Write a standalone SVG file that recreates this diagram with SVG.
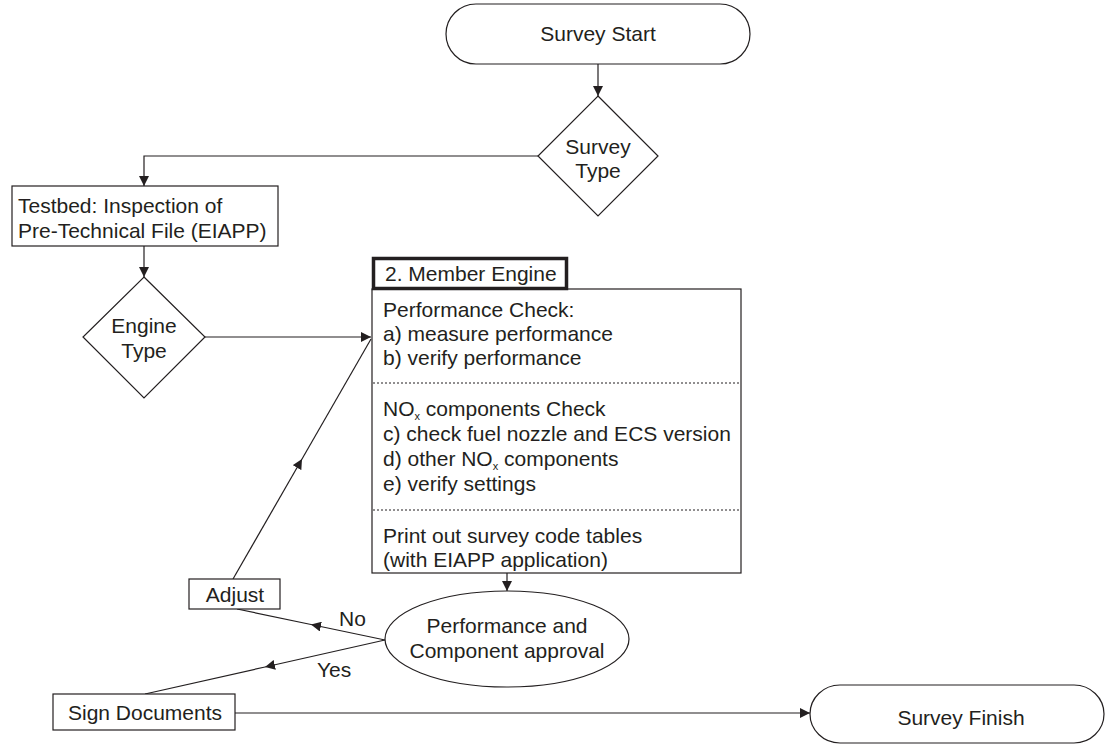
<svg xmlns="http://www.w3.org/2000/svg" width="1109" height="744" viewBox="0 0 1109 744">
<style>
text{font-family:"Liberation Sans",Arial,Helvetica,sans-serif;font-size:21px;fill:#231f20}
.mid{text-anchor:middle}
.shape{fill:#fff;stroke:#231f20;stroke-width:1.2}
.conn{fill:none;stroke:#231f20;stroke-width:1.2}
.dots{stroke:#231f20;stroke-width:1;stroke-dasharray:2 2}
.sub{font-size:11px}
</style>
<defs>
<marker id="arr" viewBox="0 0 10 10" refX="10" refY="5" markerWidth="10" markerHeight="10" markerUnits="userSpaceOnUse" orient="auto">
<path d="M0,0 L10,5 L0,10 z" fill="#231f20"/>
</marker>
</defs>
<rect width="1109" height="744" fill="#fff"/>
<g id="connectors">
<path class="conn" d="M598,64 V96" marker-end="url(#arr)"/>
<path class="conn" d="M538,156 H144 V186" marker-end="url(#arr)"/>
<path class="conn" d="M144,246 V277" marker-end="url(#arr)"/>
<path class="conn" d="M204,337 H371" marker-end="url(#arr)"/>
<path class="conn" d="M233,579 L302,459 L371,339" marker-mid="url(#arr)"/>
<path class="conn" d="M507,573 V591" marker-end="url(#arr)"/>
<path class="conn" d="M385,640 L311,624.5 L237,609" marker-mid="url(#arr)"/>
<path class="conn" d="M385,640 L265,667 L145,694" marker-mid="url(#arr)"/>
<path class="conn" d="M235,713 H810" marker-end="url(#arr)"/>
</g>
<g id="survey-start">
<rect class="shape" x="446" y="4" width="304" height="60" rx="30" ry="30"/>
<text class="mid" x="598" y="41">Survey Start</text>
</g>
<g id="survey-type">
<polygon class="shape" points="598,96 658,156 598,216 538,156"/>
<text class="mid" x="598" y="154">Survey</text>
<text class="mid" x="598" y="178">Type</text>
</g>
<g id="testbed">
<rect class="shape" x="12" y="186" width="266" height="60"/>
<text x="18" y="213">Testbed: Inspection of</text>
<text x="18" y="238">Pre-Technical File (EIAPP)</text>
</g>
<g id="engine-type">
<polygon class="shape" points="144,277 205,337 144,398 83,337"/>
<text class="mid" x="144" y="333">Engine</text>
<text class="mid" x="144" y="358">Type</text>
</g>
<g id="member-engine">
<rect class="shape" x="372" y="289" width="369" height="284"/>
<rect x="373.5" y="258.5" width="193" height="30" fill="#fff" stroke="#231f20" stroke-width="3.5"/>
<text x="385" y="281">2. Member Engine</text>
<text x="383" y="317">Performance Check:</text>
<text x="383" y="341">a) measure performance</text>
<text x="383" y="365">b) verify performance</text>
<line class="dots" x1="373" y1="383" x2="740" y2="383"/>
<text x="383" y="416">NO<tspan class="sub" dy="4">x</tspan><tspan dy="-4"> components Check</tspan></text>
<text x="383" y="441">c) check fuel nozzle and ECS version</text>
<text x="383" y="466">d) other NO<tspan class="sub" dy="4">x</tspan><tspan dy="-4"> components</tspan></text>
<text x="383" y="491">e) verify settings</text>
<line class="dots" x1="373" y1="510" x2="740" y2="510"/>
<text x="383" y="543">Print out survey code tables</text>
<text x="383" y="567">(with EIAPP application)</text>
</g>
<g id="approval">
<ellipse class="shape" cx="507" cy="639" rx="122" ry="48"/>
<text class="mid" x="507" y="633">Performance and</text>
<text class="mid" x="507" y="658">Component approval</text>
</g>
<g id="adjust">
<rect class="shape" x="189" y="579" width="91" height="30"/>
<text class="mid" x="235" y="602">Adjust</text>
</g>
<g id="sign-documents">
<rect class="shape" x="53" y="694" width="182" height="36"/>
<text class="mid" x="145" y="720">Sign Documents</text>
</g>
<g id="survey-finish">
<rect class="shape" x="810" y="685" width="294" height="58" rx="30" ry="29"/>
<text class="mid" x="961" y="725">Survey Finish</text>
</g>
<g id="labels">
<text x="339" y="626">No</text>
<text x="317" y="677">Yes</text>
</g>
</svg>
